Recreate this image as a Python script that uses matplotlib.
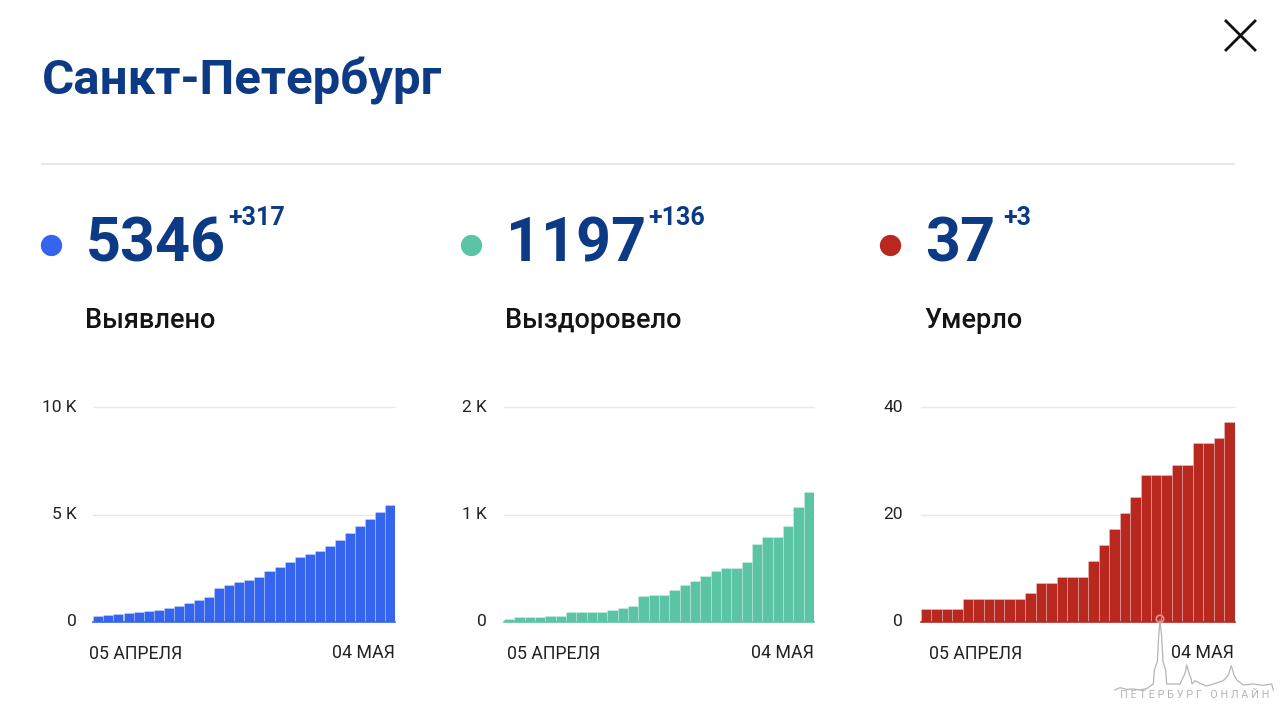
import numpy as np
import matplotlib
matplotlib.use("Agg")
import matplotlib.pyplot as plt

plt.rcParams['font.family'] = ['Roboto', 'DejaVu Sans']

title = "Санкт-Петербург"
names = ["Выявлено", "Выздоровело", "Умерло"]
totals = ["5346", "1197", "37"]
deltas = ["+317", "+136", "+3"]
date_labels = ["05 АПРЕЛЯ", "04 МАЯ"]

detected = [264, 295, 358, 389, 435, 482, 560, 622, 746, 886, 1011, 1151, 1571, 1726, 1835,
            1928, 2068, 2348, 2535, 2799, 3017, 3157, 3313, 3515, 3795, 4137, 4479, 4806, 5117, 5420]
recovered = [22, 47, 47, 47, 56, 56, 87, 87, 93, 93, 109, 124, 146, 243, 252,
             252, 292, 342, 382, 426, 473, 501, 501, 557, 722, 793, 793, 893, 1073, 1213]
deaths = [2.3, 2.3, 2.3, 2.3, 4.3, 4.3, 4.3, 4.3, 4.3, 4.3, 5.3, 7.3, 7.3, 8.3, 8.3,
          8.3, 11.3, 14.3, 17.3, 20.3, 23.3, 27.3, 27.3, 27.3, 29.3, 29.3, 33.3, 33.3, 34.3, 37.3]

series = [detected, recovered, deaths]
y_ticks = [[0, 5000, 10000], [0, 1000, 2000], [0, 20, 40]]
y_labels = [["0", "5 K", "10 K"], ["0", "1 K", "2 K"], ["0", "20", "40"]]
colors = ["#3565ee", "#5ac4a5", "#b9281f"]

NAVY = "#0d3a85"
W, H = 1280, 711
fig = plt.figure(figsize=(W / 100, H / 100), dpi=100, facecolor="white")

# pixel overlay for page furniture
page = fig.add_axes([0, 0, 1, 1], zorder=5)
page.set_xlim(0, W); page.set_ylim(H, 0); page.axis("off")
page.patch.set_alpha(0)

page.text(42, 81, title, fontsize=35.5, fontweight="bold", color=NAVY, va="center", ha="left")
page.plot([42, 1234], [164, 164], color="#e6e6e6", lw=1.4)
page.plot([1226, 1255], [21, 50], color="#111111", lw=2.0)
page.plot([1226, 1255], [50, 21], color="#111111", lw=2.0)

dot_x = [51, 471, 890]
num_x = [86, 506, 925]
delta_x = [228, 648, 1003]
date_left = [89, 507, 929]
date_right = [395, 814, 1234]
label_right = [77, 487, 903]
axes_px = [(93.3, 395.3), (504, 814), (920.7, 1234.7)]
Y0, Y_TOP = 621.7, 407.3

for i in range(3):
    page.scatter([dot_x[i]], [245], s=235, color=colors[i], linewidths=0)
    page.text(num_x[i], 245, totals[i], fontsize=44, fontweight="bold", color=NAVY, va="center", ha="left")
    page.text(delta_x[i], 218, deltas[i], fontsize=18, fontweight="bold", color=NAVY, va="center", ha="left")
    page.text(num_x[i] - 1, 321, names[i], fontsize=19.5, fontweight="medium", color="#141414", va="center", ha="left")
    page.text(date_left[i], 654, date_labels[0], fontsize=12.8, color="#222222", va="center", ha="left")
    page.text(date_right[i], 652.5, date_labels[1], fontsize=12.8, color="#222222", va="center", ha="right")

    x0, x1 = axes_px[i]
    ax = fig.add_axes([x0 / W, 1 - Y0 / H, (x1 - x0) / W, (Y0 - Y_TOP) / H])
    vals = series[i]
    ax.set_xlim(-0.5, len(vals) - 0.5)
    ax.set_ylim(0, y_ticks[i][-1])
    ax.bar(np.arange(len(vals)), vals, width=1.0, color=colors[i], edgecolor="#ffffff55",
           linewidth=0.5, zorder=3)
    ax.axhline(0, color=colors[i], lw=1.2, zorder=4, clip_on=False)
    ax.set_yticks(y_ticks[i])
    ax.set_yticklabels([])
    for t in y_ticks[i][1:]:
        ax.axhline(t, color="#e9e9e9", lw=1.0, zorder=1, clip_on=False)
    ax.set_xticks([])
    ax.tick_params(left=False)
    for s in ax.spines.values():
        s.set_visible(False)
    ax.patch.set_alpha(0)
    for t, lab in zip(y_ticks[i], y_labels[i]):
        py = Y0 + (Y_TOP - Y0) * t / y_ticks[i][-1]
        page.text(label_right[i], py, lab, fontsize=12.5, color="#222222", va="center", ha="right")

# watermark
wm = np.array([(45, 240), (60, 233), (80, 238), (100, 237), (120, 240), (140, 236), (160, 222), (163, 180),
               (172, 155), (176, 80), (180, 30), (185, 80), (189, 155), (197, 180), (200, 222), (240, 222),
               (248, 205), (255, 190), (260, 165), (267, 190), (273, 205), (276, 222), (285, 212), (300, 220),
               (320, 228), (340, 222), (370, 212), (385, 195), (394, 167), (402, 195), (412, 212), (430, 225),
               (460, 222), (490, 226), (515, 222), (520, 240)], dtype=float) / 3 + (1100, 610)
page.plot(wm[:, 0], wm[:, 1], color="#b5b5b5", lw=0.9, zorder=6)
page.scatter([1160], [619], s=28, facecolors="none", edgecolors="#d99a96", linewidths=1.2, zorder=6)
page.text(1195, 695, "ПЕТЕРБУРГ ОНЛАЙН", fontsize=8.8, color="#b5b5b5", va="center", ha="center",
          fontproperties=None, zorder=6, wrap=False).set_fontstretch("normal")
page.texts[-1].set_text("П Е Т Е Р Б У Р Г   О Н Л А Й Н")
page.texts[-1].set_fontsize(7.8)

fig.savefig("out.png", dpi=100, facecolor="white")
